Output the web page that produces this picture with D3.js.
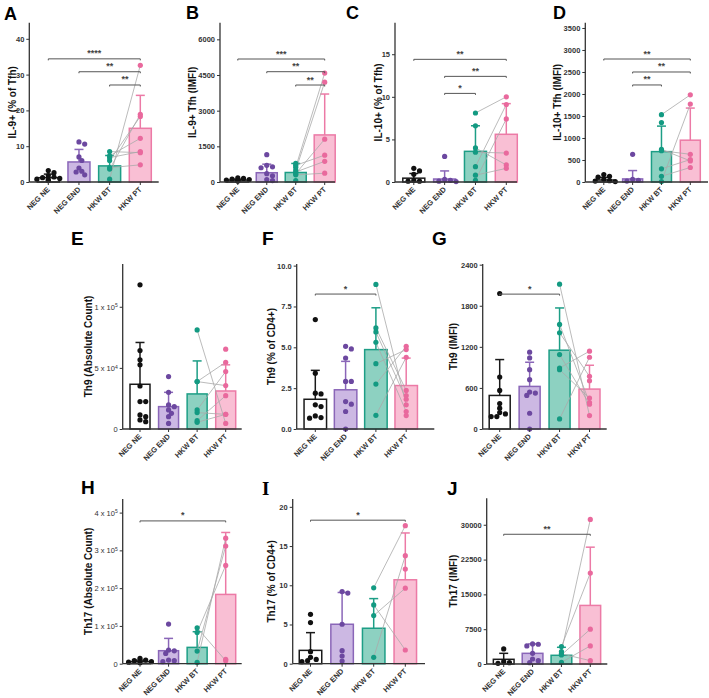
<!DOCTYPE html>
<html><head><meta charset="utf-8">
<script src="https://cdn.jsdelivr.net/npm/d3@7"></script>
<style>body{margin:0;background:#fff}</style>
</head><body><svg id="c" width="709" height="698"></svg>
<script>
const groups = ["NEG NE","NEG END","HKW BT","HKW PT"];

// ---- Panel A: IL-9+ (% of Tfh)
const A_mean = [1.2, 5.6, 4.5, 15.0];
const A_sd = [1.0, 3.5, 2.9, 9.2];
const A_ne = [3.2, 2.6, 1.8, 1.4, 1.2, 1.0, 0.8, 0.6, 0.4];
const A_end = [11.2, 10.6, 7.0, 6.0, 3.9, 3.0, 2.8, 2.0];
const A_bt = [0.8, 3.6, 6.0, 7.3, 6.8, 8.5, 4.0];
const A_pt = [32.6, 18.9, 18.3, 12.2, 8.5, 8.2, 4.8];
const A_ticks = [0, 10, 20, 30, 40];
const A_sig = [[0, 3, 34.4, "****"], [1, 3, 30.8, "**"], [2, 3, 27.1, "**"]];

// ---- Panel B: IL-9+ Tfh (IMFI)
const B_mean = [80, 390, 400, 1980];
const B_sd = [40, 360, 380, 1720];
const B_ne = [170, 150, 120, 100, 80, 60, 50, 40];
const B_end = [1150, 700, 640, 600, 350, 260, 100, 60];
const B_bt = [620, 500, 350, 700, 420, 300, 780, 60];
const B_pt = [4580, 4200, 1800, 1130, 870, 370, null, null];
const B_ticks = [0, 1500, 3000, 4500, 6000];
const B_sig = [[0, 3, 5173, "***"], [1, 3, 4639, "**"], [2, 3, 4079, "**"]];

// ---- Panel C: IL-10+ (% of Tfh)
const C_mean = [0.45, 0.35, 3.6, 5.6];
const C_sd = [0.55, 0.95, 3.0, 3.6];
const C_ne = [1.6, 1.3, 0.9, 0.2, 0.1, 0.1];
const C_end = [3.0, 0.3, 0.2, 0.1, 0.05];
const C_bt = [8.1, 1.8, 0.2, 3.5, 4.0, 0.8, 6.6];
const C_pt = [10.0, 9.1, 7.4, 3.4, 2.0, 1.6, null];
const C_ticks = [0, 5, 10, 15];
const C_sig = [[0, 3, 14.4, "**"], [1, 3, 12.4, "**"], [1, 2, 10.4, "*"]];

// ---- Panel D: IL-10+ Tfh (IMFI)
const D_mean = [45, 70, 690, 950];
const D_sd = [60, 190, 580, 730];
const D_ne = [170, 130, 110, 60, 30, 20, 10];
const D_end = [630, 60, 40, 20];
const D_bt = [1530, 10, 740, 710, 300, 130, 1350];
const D_pt = [1980, 1770, 480, 630, 510, 330, null];
const D_ticks = [0, 500, 1000, 1500, 2000, 2500, 3000, 3500];
const D_sig = [[0, 3, 2795, "**"], [1, 3, 2500, "**"], [1, 2, 2205, "**"]];

// ---- Panel E: Th9 (Absolute Count)
const E_mean = [36600, 18300, 28700, 31100];
const E_sd = [34200, 11700, 27000, 21400];
const E_ne = [118000, 64200, 56600, 52500, 35200, 22400, 22400, 11500, 10100, 7400, 6000];
const E_end = [42900, 30000, 19700, 18300, 15600, 12800, 10100, 4600];
const E_bt = [81100, 38800, 38800, 15600, 13400, 6800, 5500, null];
const E_pt = [4600, 54600, 35500, 47000, 12000, 27300, 12000, 65300];
const E_ticks = [0, 50000, 100000];
const E_tickLabels = [["0", ""], ["5 x 10", "4"], ["1 x 10", "5"]];
const E_sig = [];

// ---- Panel F: Th9 (% of CD4+)
const F_mean = [1.82, 2.40, 4.86, 2.66];
const F_sd = [1.77, 1.74, 2.56, 1.68];
const F_ne = [6.7, 3.42, 2.19, 2.15, 1.48, 1.37, 0.8, 0.7, 0.66];
const F_end = [5.06, 4.9, 4.34, 2.91, 2.91, 1.68, 1.52, 1.07, 0.0];
const F_bt = [8.85, 6.19, 5.94, 5.31, 4.0, 2.75, 0.84, null, null];
const F_pt = [1.48, 2.36, 1.82, 1.07, 4.86, 5.06, 4.39, 2.05, 0.82];
const F_ticks = [0, 2.5, 5, 7.5, 10];
const F_sig = [[0, 2, 8.26, "*"]];

// ---- Panel G: Th9 (IMFI)
const G_mean = [490, 622, 1151, 583];
const G_sd = [524, 353, 617, 348];
const G_ne = [1979, 759, 563, 372, 304, 240, 220, 181, 181];
const G_end = [1122, 1038, 867, 720, 539, 524, 490, 230, 0];
const G_bt = [2116, 1528, 1406, 1087, 891, 867, 147, null];
const G_pt = [196, 387, 769, 362, 1136, 451, 1048, 705];
const G_ticks = [0, 600, 1200, 1800, 2400];
const G_sig = [[0, 2, 1970, "*"]];

// ---- Panel H: Th17 (Absolute Count)
const H_mean = [5300, 34400, 43200, 183400];
const H_sd = [4000, 32600, 41500, 164000];
const H_ne = [14100, 9700, 7900, 5300, 4000, 2600];
const H_end = [105000, 36200, 34000, 27300, 9700, 7900, 5300];
const H_bt = [3500, 33500, 82900, 95200, null];
const H_pt = [332400, 311300, 260100, 7900, 11500];
const H_ticks = [0, 100000, 200000, 300000, 400000];
const H_tickLabels = [["0", ""], ["1 x 10", "5"], ["2 x 10", "5"], ["3 x 10", "5"], ["4 x 10", "5"]];
const H_sig = [[0, 3, 378000, "*"]];

// ---- Panel I: Th17 (% of CD4+)
const I_mean = [1.7, 5.03, 4.52, 10.7];
const I_sd = [2.26, 4.05, 3.78, 5.97];
const I_ne = [6.3, 5.24, 1.53, 0.81, 0.55, 0.38, 0.26];
const I_end = [9.2, 9.0, 5.03, 1.66, 0.98, 0.34];
const I_bt = [9.68, 0.81, 6.14, 7.5, null];
const I_pt = [17.6, 13.77, 9.63, 1.75, 12.06];
const I_ticks = [0, 5, 10, 15, 20];
const I_sig = [[0, 3, 18.3, "*"]];

// ---- Panel J: Th17 (IMFI)
const J_mean = [1010, 2300, 1875, 12620];
const J_sd = [1290, 2030, 1725, 12550];
const J_ne = [3250, 500, 290, 150];
const J_end = [4330, 4250, 3900, 2300, 1080, 720, 290];
const J_bt = [2670, 3750, 1950, 360, 2200];
const J_pt = [31150, 19600, 7500, 3900, 720];
const J_ticks = [0, 7500, 15000, 22500, 30000];
const J_sig = [[0, 3, 27950, "**"]];

const strokeC = ["#1a1a1a", "#8a66b8", "#1d9e86", "#ec7aa6"];
const fillC = ["#ffffff", "#ccb8e3", "#8dd1c1", "#f9bfd4"];
const dotC = ["#111111", "#6c48a0", "#139a82", "#e9699d"];
const FONT = "'Liberation Sans', Arial, sans-serif";

const panels = [
  {L:"A", yl:"IL-9+ (% of Tfh)", mean:A_mean, sd:A_sd, pts:[A_ne,A_end,A_bt,A_pt], ticks:A_ticks, sig:A_sig, fmt:d3.format("d"),
   lx:4, ly:20, ls:18, left:29.3, right:158.7, top:22.7, base:182, c0:48.3, c3:140.3, bw:22, ymax:44.5, ylx:12},
  {L:"B", yl:"IL-9+ Tfh (IMFI)", mean:B_mean, sd:B_sd, pts:[B_ne,B_end,B_bt,B_pt], ticks:B_ticks, sig:B_sig, fmt:d3.format("d"),
   lx:186, ly:19, ls:18, left:220, right:335, top:22.7, base:182, c0:237.8, c3:324.7, bw:21, ymax:6700, ylx:192},
  {L:"C", yl:"IL-10+ (% of Tfh)", mean:C_mean, sd:C_sd, pts:[C_ne,C_end,C_bt,C_pt], ticks:C_ticks, sig:C_sig, fmt:d3.format("d"),
   lx:346, ly:19, ls:18, left:395, right:517, top:22.7, base:182, c0:413.8, c3:506.3, bw:22, ymax:18.7, ylx:378},
  {L:"D", yl:"IL-10+ Tfh (IMFI)", mean:D_mean, sd:D_sd, pts:[D_ne,D_end,D_bt,D_pt], ticks:D_ticks, sig:D_sig, fmt:d3.format("d"),
   lx:553, ly:19, ls:18, left:585.3, right:708, top:22.7, base:182, c0:603.8, c3:690.3, bw:20, ymax:3620, ylx:557},
  {L:"E", yl:"Th9 (Absolute Count)", mean:E_mean, sd:E_sd, pts:[E_ne,E_end,E_bt,E_pt], ticks:E_ticks, tl:E_tickLabels, sig:E_sig,
   lx:71, ly:245, ls:19, left:122.7, right:241.7, top:264, base:429, c0:140, c3:225.7, bw:20, ymax:135000, ylx:88},
  {L:"F", yl:"Th9 (% of CD4+)", mean:F_mean, sd:F_sd, pts:[F_ne,F_end,F_bt,F_pt], ticks:F_ticks, sig:F_sig, fmt:d3.format(".1f"),
   lx:262, ly:245, ls:19, left:296.7, right:434.3, top:264, base:429, c0:315.3, c3:406.2, bw:22.5, ymax:10.1, ylx:271},
  {L:"G", yl:"Th9 (IMFI)", mean:G_mean, sd:G_sd, pts:[G_ne,G_end,G_bt,G_pt], ticks:G_ticks, sig:G_sig, fmt:d3.format("d"),
   lx:432, ly:245, ls:19, left:482.7, right:606.7, top:264, base:429, c0:499.7, c3:589.5, bw:21, ymax:2410, ylx:453},
  {L:"H", yl:"Th17 (Absolute Count)", mean:H_mean, sd:H_sd, pts:[H_ne,H_end,H_bt,H_pt], ticks:H_ticks, tl:H_tickLabels, sig:H_sig,
   lx:81, ly:494, ls:19, left:122.7, right:241.7, top:499, base:663.7, c0:140, c3:225.7, bw:20, ymax:436000, ylx:88},
  {L:"I", yl:"Th17 (% of CD4+)", mean:I_mean, sd:I_sd, pts:[I_ne,I_end,I_bt,I_pt], ticks:I_ticks, sig:I_sig, fmt:d3.format("d"),
   lx:262, ly:495, ls:19, left:292.7, right:425, top:499, base:663.7, c0:310.5, c3:405.3, bw:22.5, ymax:21, ylx:271},
  {L:"J", yl:"Th17 (IMFI)", mean:J_mean, sd:J_sd, pts:[J_ne,J_end,J_bt,J_pt], ticks:J_ticks, sig:J_sig, fmt:d3.format("d"),
   lx:447, ly:495, ls:19, left:486.7, right:607.3, top:498.3, base:664, c0:503.7, c3:590.3, bw:20.7, ymax:35700, ylx:453}
];

const svg = d3.select("#c");
const R = 2.6;

function swarm(vals, cx, y) {
  const placed = [];
  const out = [];
  const order = vals.map((v, i) => i).filter(i => vals[i] != null).sort((a, b) => vals[b] - vals[a]);
  order.forEach(i => {
    const py = y(vals[i]);
    const offs = [0, 1, -1, 2, -2, 3, -3, 4, -4].map(k => k * R * 1.1);
    let done = false;
    for (const o of offs) {
      const px = cx + o;
      if (placed.every(q => Math.hypot(q[0] - px, q[1] - py) >= 1.6 * R)) {
        placed.push([px, py]); out.push([px, py]); done = true; break;
      }
    }
    if (!done) { out.push([cx, py]); }
  });
  return out;
}

panels.forEach(p => {
  const g = svg.append("g");
  const y = d3.scaleLinear().domain([0, p.ymax]).range([p.base, p.top]);
  const step = (p.c3 - p.c0) / 3;
  const x = d3.scaleBand().domain(groups)
    .range([p.c0 - p.bw / 2, p.c3 + p.bw / 2])
    .paddingInner(1 - p.bw / step).paddingOuter(0);
  const cx = i => x(groups[i]) + x.bandwidth() / 2;

  // letter
  g.append("text").attr("x", p.lx).attr("y", p.ly).text(p.L)
    .attr("font-family", p.L === "I" ? "'Liberation Serif', serif" : FONT)
    .attr("font-weight", "bold").attr("font-size", p.ls).attr("fill", "#000");

  // bars
  g.selectAll(".bar").data(p.mean).join("rect")
    .attr("x", (d, i) => x(groups[i])).attr("width", x.bandwidth())
    .attr("y", d => y(d)).attr("height", d => p.base - y(d))
    .attr("fill", (d, i) => fillC[i]).attr("stroke", (d, i) => strokeC[i]).attr("stroke-width", 1.5);

  // error bars
  p.mean.forEach((m, i) => {
    const top = y(m + p.sd[i]);
    g.append("line").attr("x1", cx(i)).attr("x2", cx(i)).attr("y1", y(m)).attr("y2", top)
      .attr("stroke", strokeC[i]).attr("stroke-width", 1.5);
    g.append("line").attr("x1", cx(i) - 4.5).attr("x2", cx(i) + 4.5).attr("y1", top).attr("y2", top)
      .attr("stroke", strokeC[i]).attr("stroke-width", 1.5);
  });

  // paired lines
  const bt = p.pts[2], pt = p.pts[3];
  bt.forEach((v, i) => {
    if (v == null || pt[i] == null) return;
    g.append("line").attr("x1", cx(2)).attr("y1", y(v)).attr("x2", cx(3)).attr("y2", y(pt[i]))
      .attr("stroke", "#a9a9a9").attr("stroke-width", 0.8);
  });

  // points
  [0, 1].forEach(gi => {
    swarm(p.pts[gi], cx(gi), y).forEach(([px, py]) => {
      g.append("circle").attr("cx", px).attr("cy", py).attr("r", R).attr("fill", dotC[gi]);
    });
  });
  [2, 3].forEach(gi => {
    p.pts[gi].forEach(v => {
      if (v == null) return;
      g.append("circle").attr("cx", cx(gi)).attr("cy", y(v)).attr("r", R).attr("fill", dotC[gi]);
    });
  });

  // y axis
  const ya = d3.axisLeft(y).tickValues(p.ticks).tickSize(3).tickSizeOuter(0).tickPadding(2);
  if (p.fmt) ya.tickFormat(p.fmt); else ya.tickFormat(() => "");
  const yg = g.append("g").attr("transform", `translate(${p.left},0)`).call(ya);
  yg.select(".domain").attr("stroke", "#333").attr("stroke-width", 1.3)
    .attr("d", `M0,${p.base}V${p.top}`);
  yg.selectAll(".tick line").attr("stroke", "#333").attr("stroke-width", 1);
  yg.selectAll(".tick text").attr("font-family", FONT).attr("font-size", 7.5)
    .attr("font-weight", "bold").attr("fill", "#333");
  if (p.tl) {
    yg.selectAll(".tick text").each(function (d, i) {
      const t = d3.select(this);
      t.text(null).attr("font-weight", "normal").attr("font-size", 7.5);
      t.append("tspan").text(p.tl[i][0]);
      if (p.tl[i][1]) t.append("tspan").attr("dy", "-0.45em").attr("font-size", 5).text(p.tl[i][1]);
    });
  }

  // x axis
  g.append("line").attr("x1", p.left).attr("x2", p.right).attr("y1", p.base).attr("y2", p.base)
    .attr("stroke", "#333").attr("stroke-width", 1.3);
  const xa = d3.axisBottom(x).tickSize(3).tickSizeOuter(0);
  const xg = g.append("g").attr("transform", `translate(0,${p.base})`).call(xa);
  xg.select(".domain").remove();
  xg.selectAll(".tick line").attr("stroke", "#333");
  xg.selectAll(".tick text").attr("font-family", FONT).attr("font-size", 7.5)
    .attr("font-weight", "bold").attr("fill", "#333")
    .attr("text-anchor", "end").attr("dy", null).attr("y", null)
    .attr("transform", "translate(2,8) rotate(-45)");

  // y label
  const cy = (p.top + p.base) / 2;
  g.append("text").attr("transform", `translate(${p.ylx},${cy}) rotate(-90)`)
    .attr("text-anchor", "middle").attr("dy", "0.35em")
    .attr("font-family", FONT).attr("font-weight", "bold").attr("font-size", 10).attr("fill", "#111")
    .text(p.yl);

  // significance
  p.sig.forEach(([a, b, v, lab]) => {
    const yy = y(v);
    g.append("path").attr("d", `M${cx(a)},${yy + 1.5}V${yy}H${cx(b)}V${yy + 1.5}`)
      .attr("fill", "none").attr("stroke", "#555").attr("stroke-width", 1);
    g.append("text").attr("x", (cx(a) + cx(b)) / 2).attr("y", yy - 2.5).attr("text-anchor", "middle")
      .attr("font-family", FONT).attr("font-weight", "bold").attr("font-size", 9).attr("fill", "#444").text(lab);
  });
});
</script></body></html>
